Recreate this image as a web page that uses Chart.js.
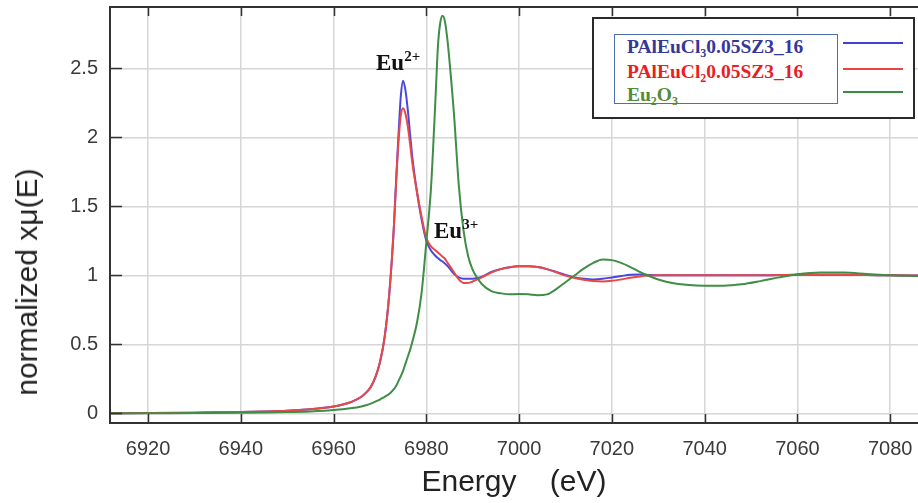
<!DOCTYPE html>
<html><head><meta charset="utf-8">
<script src="https://cdn.jsdelivr.net/npm/chart.js@4"></script>
<style>
html,body{margin:0;padding:0;background:#fff;overflow:hidden}
#wrap{position:relative;width:918px;height:503px;overflow:hidden}
canvas{position:absolute;left:0;top:0}
.ser{position:absolute;font-family:"Liberation Serif","Times New Roman",serif;font-weight:bold;line-height:1;white-space:nowrap}
.sp{font-size:15px;position:relative;top:-9px}
.sb{font-size:12px;position:relative;top:4px}
#ytitle{position:absolute;left:27px;top:282px;transform:translate(-50%,-50%) rotate(-90deg);font-family:"Liberation Sans",Arial,sans-serif;font-size:30px;color:#222;white-space:nowrap;line-height:1}
#legOuter{position:absolute;left:592px;top:17px;width:319px;height:98px;border:2px solid #2a2a2a;background:#fff}
#legInner{position:absolute;left:614px;top:34px;width:222px;height:68px;border:1.5px solid #4f6fa8}
.lline{position:absolute;left:843px;width:60px;height:0;border-top:2px solid}
</style></head><body>
<div id="wrap">
<canvas id="c" width="918" height="503"></canvas>
<div id="ytitle">normalized xμ(E)</div>
<div class="ser" style="left:376px;top:51px;font-size:23px;color:#111">Eu<span class="sp">2+</span></div>
<div class="ser" style="left:434px;top:219px;font-size:23px;color:#111">Eu<span class="sp">3+</span></div>
<div id="legOuter"></div>
<div id="legInner"></div>
<div class="ser" style="left:627px;top:37px;font-size:19.5px;color:#36369a">PAlEuCl<span class="sb">3</span>0.05SZ3_16</div>
<div class="ser" style="left:627px;top:62px;font-size:19.5px;color:#ec1c24">PAlEuCl<span class="sb">2</span>0.05SZ3_16</div>
<div class="ser" style="left:627px;top:85px;font-size:19.5px;color:#548a3c">Eu<span class="sb">2</span>O<span class="sb">3</span></div>
<div class="lline" style="top:42px;border-color:#4040d8"></div>
<div class="lline" style="top:68px;border-color:#e84444"></div>
<div class="lline" style="top:91px;border-color:#3c8c44"></div>
</div>
<script>
const energy = [6912,6920,6930,6940,6945,6950,6955,6958,6960,6962,6964,6966,6967,6968,6969,6970,6971,6972,6973,6973.5,6974,6974.5,6975,6975.5,6976,6976.5,6977,6978,6979,6980,6981,6982,6982.5,6983,6983.5,6984,6984.5,6985,6986,6987,6988,6989,6990,6991,6992,6994,6996,6998,7000,7002,7004,7006,7008,7010,7012,7014,7016,7018,7020,7022,7024,7026,7028,7030,7033,7036,7040,7044,7048,7052,7056,7060,7065,7070,7075,7080,7086];
const pal3 = [0,0.002,0.005,0.009,0.013,0.019,0.03,0.04,0.05,0.064,0.085,0.12,0.15,0.19,0.26,0.37,0.55,0.86,1.35,1.7,2.02,2.3,2.41,2.34,2.2,2.02,1.85,1.6,1.4,1.25,1.18,1.14,1.125,1.11,1.1,1.085,1.07,1.05,1.01,0.985,0.975,0.975,0.975,0.98,0.99,1.025,1.045,1.058,1.065,1.066,1.06,1.045,1.025,1.003,0.985,0.975,0.97,0.975,0.985,0.995,1.004,1.006,1.003,1.0,1.0,1.0,1.0,1.0,1.0,1.0,1.002,1.004,1.005,1.004,1.002,1.0,0.998];
const pal2 = [0,0.002,0.005,0.009,0.013,0.019,0.03,0.04,0.05,0.064,0.085,0.12,0.15,0.19,0.26,0.37,0.55,0.86,1.35,1.68,1.97,2.16,2.21,2.17,2.08,1.95,1.81,1.6,1.42,1.27,1.21,1.18,1.165,1.15,1.135,1.12,1.095,1.07,1.02,0.97,0.945,0.945,0.955,0.97,0.985,1.02,1.045,1.058,1.065,1.066,1.06,1.045,1.022,0.998,0.98,0.968,0.958,0.955,0.96,0.97,0.982,0.992,0.998,1.0,1.0,1.0,1.0,1.0,1.0,1.0,1.002,1.004,1.005,1.004,1.002,1.0,0.998];
const eu2o3 = [0,0.001,0.002,0.004,0.006,0.009,0.014,0.019,0.024,0.03,0.038,0.05,0.058,0.07,0.085,0.1,0.12,0.14,0.175,0.2,0.235,0.27,0.31,0.36,0.41,0.46,0.52,0.66,0.88,1.24,1.63,2.3,2.66,2.83,2.88,2.84,2.72,2.55,2.15,1.65,1.33,1.14,1.04,0.98,0.935,0.885,0.87,0.862,0.865,0.862,0.856,0.862,0.9,0.95,1.0,1.05,1.09,1.115,1.11,1.09,1.06,1.025,0.995,0.97,0.945,0.932,0.925,0.925,0.935,0.958,0.985,1.008,1.02,1.02,1.01,1.0,0.995];
const xTicks = [6920,6940,6960,6980,7000,7020,7040,7060,7080];
const yTicks = [0,0.5,1,1.5,2,2.5];

const pts = arr => energy.map((e,i)=>({x:e,y:arr[i]}));
const sans = '"Liberation Sans", Arial, sans-serif';

const frame = {
  id:'frame',
  afterDraw(chart){
    const {ctx, chartArea:a, scales:{x,y}} = chart;
    ctx.save();
    ctx.strokeStyle='#333'; ctx.lineWidth=1.5;
    ctx.beginPath();
    xTicks.forEach(v=>{const px=Math.round(x.getPixelForValue(v))+0.5;
      ctx.moveTo(px,a.bottom); ctx.lineTo(px,a.bottom-9);
      ctx.moveTo(px,a.top); ctx.lineTo(px,a.top+9);});
    yTicks.forEach(v=>{const py=Math.round(y.getPixelForValue(v))+0.5;
      ctx.moveTo(a.left,py); ctx.lineTo(a.left+12,py);});
    ctx.stroke();
    ctx.lineWidth=2; ctx.beginPath(); ctx.moveTo(a.left,a.top); ctx.lineTo(a.right,a.top); ctx.stroke();
    ctx.restore();
  }
};

new Chart(document.getElementById('c'), {
  type:'line',
  data:{datasets:[
    {label:'PAlEuCl3 0.05SZ3_16', data:pts(pal3), borderColor:'#4848e0', borderWidth:2, pointRadius:0, cubicInterpolationMode:'monotone', order:2},
    {label:'PAlEuCl2 0.05SZ3_16', data:pts(pal2), borderColor:'#e84848', borderWidth:2, pointRadius:0, cubicInterpolationMode:'monotone', order:1},
    {label:'Eu2O3', data:pts(eu2o3), borderColor:'#3f8d46', borderWidth:2, pointRadius:0, cubicInterpolationMode:'monotone', order:0}
  ]},
  options:{
    responsive:false, animation:false, devicePixelRatio:1,
    layout:{padding:{top:7,right:0,left:0,bottom:0}},
    plugins:{legend:{display:false}, tooltip:{enabled:false}},
    scales:{
      x:{type:'linear', min:6911.8, max:7086,
        afterBuildTicks(s){ s.ticks = xTicks.map(v=>({value:v})); },
        afterFit(s){ s.height = 80; s.paddingLeft = 0; s.paddingRight = 0; },
        grid:{color:'#d6d6d6', lineWidth:1.5, drawTicks:false},
        border:{color:'#333', width:2},
        ticks:{font:{family:sans,size:20}, color:'#3a3a3a', padding:14, maxRotation:0, callback:v=>String(v)},
        title:{display:true, text:'Energy    (eV)', font:{family:sans,size:30,lineHeight:1}, color:'#222', padding:{top:0,bottom:5}}
      },
      y:{type:'linear', min:-0.07, max:2.944,
        afterBuildTicks(s){ s.ticks = yTicks.map(v=>({value:v})); },
        afterFit(s){ s.width = 110; s.paddingTop = 0; s.paddingBottom = 0; },
        grid:{color:'#d6d6d6', lineWidth:1.5, drawTicks:false},
        border:{color:'#333', width:2},
        ticks:{font:{family:sans,size:20}, color:'#3a3a3a', padding:12, callback:v=>String(v)}
      }
    }
  },
  plugins:[frame]
});
</script>
</body></html>
